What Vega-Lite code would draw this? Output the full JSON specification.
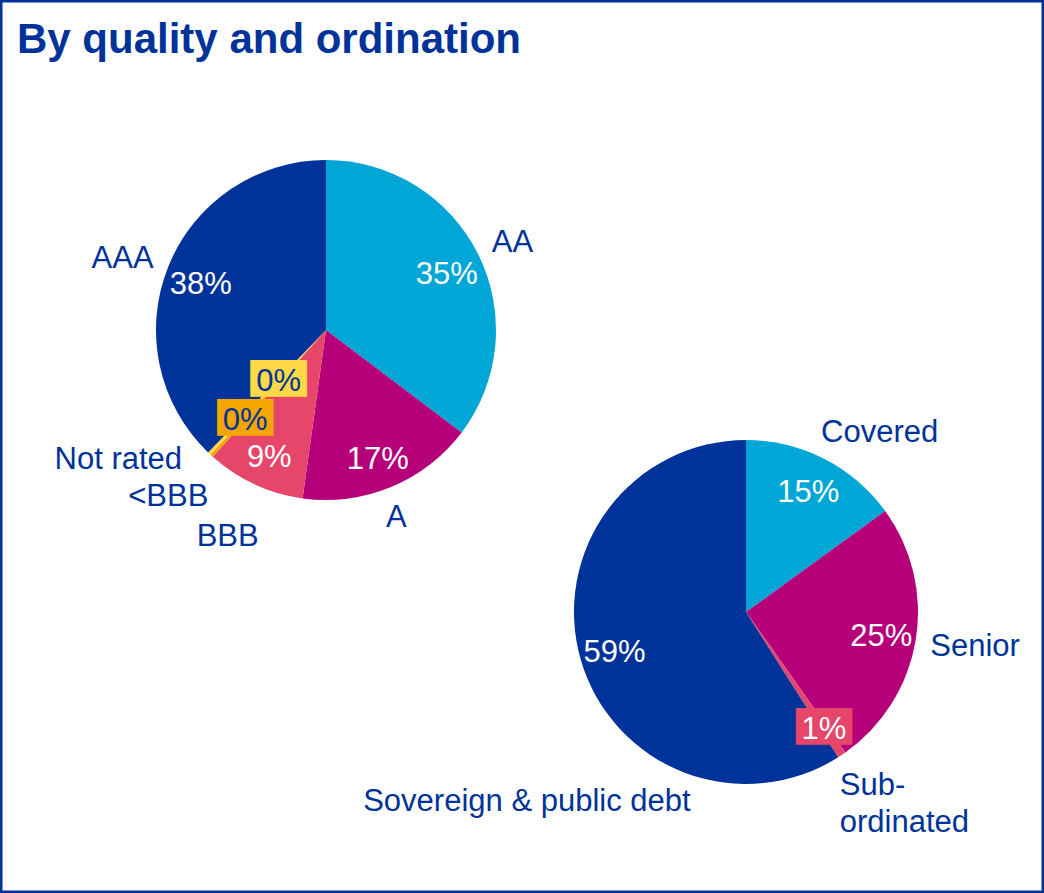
{
  "$schema": "https://vega.github.io/schema/vega-lite/v6.json",
  "width": 1044,
  "height": 893,
  "autosize": {"type": "none"},
  "padding": 0,
  "background": "white",
  "config": {"view": {"stroke": "#003399", "strokeWidth": 5}},
  "title": {"text": "By quality and ordination", "anchor": "start", "frame": "group", "orient": "top", "baseline": "alphabetic", "offset": -95, "dx": 17, "font": "Liberation Sans", "fontSize": 42, "fontWeight": "bold", "color": "#003399"},
  "data": {"values": [
    {"chart": "quality", "cat": "AA", "label": "AA", "value": 0.353},
    {"chart": "quality", "cat": "A", "label": "A", "value": 0.169},
    {"chart": "quality", "cat": "BBB", "label": "BBB", "value": 0.094},
    {"chart": "quality", "cat": "<BBB", "label": "<BBB", "value": 0.003},
    {"chart": "quality", "cat": "Not rated", "label": "Not rated", "value": 0.003},
    {"chart": "quality", "cat": "AAA", "label": "AAA", "value": 0.378},
    {"chart": "ordination", "cat": "Covered", "label": "Covered", "value": 0.15},
    {"chart": "ordination", "cat": "Senior", "label": "Senior", "value": 0.252},
    {"chart": "ordination", "cat": "Sub-ordinated", "label": "Sub-\nordinated", "value": 0.008},
    {"chart": "ordination", "cat": "Sovereign & public debt", "label": "Sovereign & public debt", "value": 0.59}
  ]},
  "transform": [{"window": [{"op": "row_number", "as": "idx"}]}],
  "encoding": {
    "x": {"field": "chart", "type": "nominal", "axis": null, "scale": {"type": "point", "domain": ["quality", "ordination"], "range": [326, 746], "padding": 0}},
    "y": {"field": "chart", "type": "nominal", "axis": null, "scale": {"type": "point", "domain": ["quality", "ordination"], "range": [330, 612], "padding": 0}},
    "theta": {"field": "value", "type": "quantitative", "stack": true, "scale": {"domain": [0, 1]}},
    "order": {"field": "idx", "type": "quantitative"},
    "detail": {"field": "cat", "type": "nominal"}
  },
  "layer": [
    {"transform": [{"filter": "datum.chart === 'quality'"}], "mark": {"type": "arc", "outerRadius": 170},
     "encoding": {"color": {"field": "cat", "type": "nominal", "legend": null, "scale": {"domain": ["AAA", "AA", "A", "BBB", "<BBB", "Not rated", "Covered", "Senior", "Sub-ordinated", "Sovereign & public debt"], "range": ["#003399", "#00A6D6", "#B5007A", "#E5466A", "#F5A500", "#FFD845", "#00A6D6", "#B5007A", "#E5466A", "#003399"]}}}},
    {"transform": [{"filter": "datum.chart === 'ordination'"}], "mark": {"type": "arc", "outerRadius": 172},
     "encoding": {"color": {"field": "cat", "type": "nominal", "legend": null}}},
    {"transform": [{"filter": "datum.chart === 'quality'"}], "mark": {"type": "text", "radius": 135, "dy": 5, "font": "Liberation Sans", "fontSize": 31, "fill": "white"},
     "encoding": {"text": {"condition": {"test": "datum.value > 0.05", "field": "value", "format": ".0%"}, "value": ""}}},
    {"transform": [{"filter": "datum.chart === 'ordination'"}], "mark": {"type": "text", "radius": 137, "dy": 3, "font": "Liberation Sans", "fontSize": 31, "fill": "white"},
     "encoding": {"text": {"condition": {"test": "datum.value > 0.05", "field": "value", "format": ".0%"}, "value": ""}}},
    {"transform": [{"filter": "datum.chart === 'quality'"}], "mark": {"type": "text", "radius": 69, "font": "DejaVu Sans Mono", "fontSize": 31, "fill": "#FFD845"},
     "encoding": {"text": {"condition": {"test": "datum.cat === 'Not rated'", "value": "███"}, "value": ""}}},
    {"transform": [{"filter": "datum.chart === 'quality'"}], "mark": {"type": "text", "radius": 69, "dy": 2, "font": "Liberation Sans", "fontSize": 31, "fill": "#003399"},
     "encoding": {"text": {"condition": {"test": "datum.cat === 'Not rated'", "field": "value", "format": ".0%"}, "value": ""}}},
    {"transform": [{"filter": "datum.chart === 'quality'"}], "mark": {"type": "text", "radius": 120, "font": "DejaVu Sans Mono", "fontSize": 31, "fill": "#F5A500"},
     "encoding": {"text": {"condition": {"test": "datum.cat === '<BBB'", "value": "███"}, "value": ""}}},
    {"transform": [{"filter": "datum.chart === 'quality'"}], "mark": {"type": "text", "radius": 120, "dy": 2, "font": "Liberation Sans", "fontSize": 31, "fill": "#003399"},
     "encoding": {"text": {"condition": {"test": "datum.cat === '<BBB'", "field": "value", "format": ".0%"}, "value": ""}}},
    {"transform": [{"filter": "datum.chart === 'ordination'"}], "mark": {"type": "text", "radius": 140, "font": "DejaVu Sans Mono", "fontSize": 31, "fill": "#E5466A"},
     "encoding": {"text": {"condition": {"test": "datum.cat === 'Sub-ordinated'", "value": "███"}, "value": ""}}},
    {"transform": [{"filter": "datum.chart === 'ordination'"}], "mark": {"type": "text", "radius": 140, "dy": 2, "font": "Liberation Sans", "fontSize": 31, "fill": "white"},
     "encoding": {"text": {"condition": {"test": "datum.cat === 'Sub-ordinated'", "field": "value", "format": ".0%"}, "value": ""}}},
    {"transform": [{"filter": "datum.chart === 'quality'"}], "mark": {"type": "text", "radius": 215, "dx": -6, "dy": 9, "font": "Liberation Sans", "fontSize": 31, "fill": "#003399"},
     "encoding": {"text": {"condition": {"test": "datum.cat === 'AA'", "field": "label"}, "value": ""}}},
    {"transform": [{"filter": "datum.chart === 'quality'"}], "mark": {"type": "text", "radius": 215, "dx": -12, "dy": -11, "font": "Liberation Sans", "fontSize": 31, "fill": "#003399"},
     "encoding": {"text": {"condition": {"test": "datum.cat === 'A'", "field": "label"}, "value": ""}}},
    {"transform": [{"filter": "datum.chart === 'quality'"}], "mark": {"type": "text", "radius": 215, "dx": -8, "dy": 12, "font": "Liberation Sans", "fontSize": 31, "fill": "#003399"},
     "encoding": {"text": {"condition": {"test": "datum.cat === 'BBB'", "field": "label"}, "value": ""}}},
    {"transform": [{"filter": "datum.chart === 'quality'"}], "mark": {"type": "text", "radius": 215, "dx": -13, "dy": 8, "font": "Liberation Sans", "fontSize": 31, "fill": "#003399"},
     "encoding": {"text": {"condition": {"test": "datum.cat === '<BBB'", "field": "label"}, "value": ""}}},
    {"transform": [{"filter": "datum.chart === 'quality'"}], "mark": {"type": "text", "radius": 215, "dx": -60, "dy": -26, "font": "Liberation Sans", "fontSize": 31, "fill": "#003399"},
     "encoding": {"text": {"condition": {"test": "datum.cat === 'Not rated'", "field": "label"}, "value": ""}}},
    {"transform": [{"filter": "datum.chart === 'quality'"}], "mark": {"type": "text", "radius": 215, "dx": -4, "dy": 9, "font": "Liberation Sans", "fontSize": 31, "fill": "#003399"},
     "encoding": {"text": {"condition": {"test": "datum.cat === 'AAA'", "field": "label"}, "value": ""}}},
    {"transform": [{"filter": "datum.chart === 'ordination'"}], "mark": {"type": "text", "radius": 224, "dx": 32, "dy": 21, "font": "Liberation Sans", "fontSize": 31, "fill": "#003399"},
     "encoding": {"text": {"condition": {"test": "datum.cat === 'Covered'", "field": "label"}, "value": ""}}},
    {"transform": [{"filter": "datum.chart === 'ordination'"}], "mark": {"type": "text", "radius": 224, "dx": 8, "dy": -1, "font": "Liberation Sans", "fontSize": 31, "fill": "#003399"},
     "encoding": {"text": {"condition": {"test": "datum.cat === 'Senior'", "field": "label"}, "value": ""}}},
    {"transform": [{"filter": "datum.chart === 'ordination'"}], "mark": {"type": "text", "radius": 224, "dx": -4, "dy": 128, "font": "Liberation Sans", "fontSize": 31, "fill": "#003399"},
     "encoding": {"text": {"condition": {"test": "datum.cat === 'Sovereign & public debt'", "field": "label"}, "value": ""}}},
    {"transform": [{"filter": "datum.chart === 'ordination'"}], "mark": {"type": "text", "radius": 215, "dx": -26, "dy": 4, "align": "left", "baseline": "alphabetic", "lineBreak": "\n", "lineHeight": 37, "font": "Liberation Sans", "fontSize": 31, "fill": "#003399"},
     "encoding": {"text": {"condition": {"test": "datum.cat === 'Sub-ordinated'", "field": "label"}, "value": ""}}}
  ]
}
